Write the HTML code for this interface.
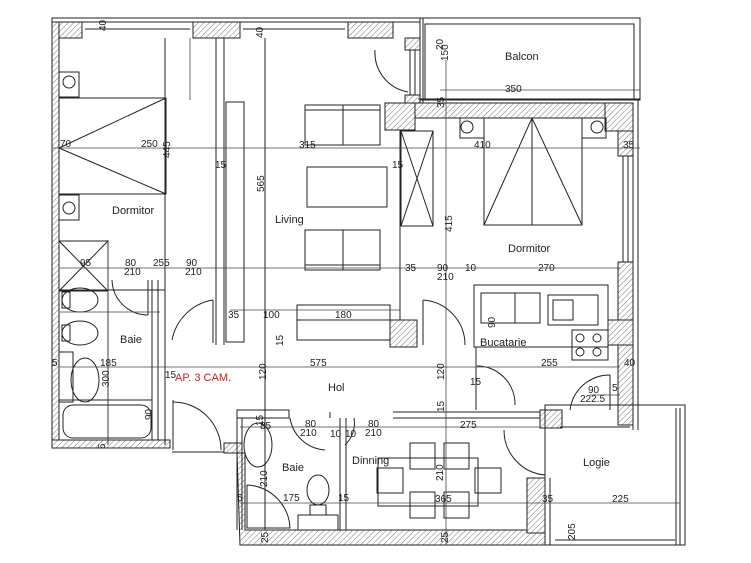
<!DOCTYPE html>
<html><head><meta charset="utf-8"><style>
body{margin:0;background:#fff}
svg{display:block}
text{font-family:"Liberation Sans",sans-serif;font-size:10px;fill:#222}
.l{font-size:11px}
</style></head><body>
<svg width="751" height="563" viewBox="0 0 751 563" xmlns="http://www.w3.org/2000/svg">
<defs>
<pattern id="h" width="4" height="4" patternUnits="userSpaceOnUse" patternTransform="rotate(45)">
<rect width="4" height="4" fill="#fff"/><line x1="0" y1="0" x2="0" y2="4" stroke="#777" stroke-width="1"/></pattern>
</defs>
<g stroke="#222" fill="none" stroke-width="1">
<!-- outer walls hatched -->
<rect x="52" y="18" width="368" height="4" fill="#fff"/>
<rect x="52" y="22" width="30" height="16" fill="url(#h)"/>
<rect x="193" y="22" width="47" height="16" fill="url(#h)"/>
<rect x="348" y="22" width="45" height="16" fill="url(#h)"/>
<line x1="85" y1="29" x2="190" y2="29"/><line x1="243" y1="29" x2="345" y2="29"/>
<rect x="52" y="22" width="7" height="425" fill="url(#h)"/>
<rect x="52" y="440" width="118" height="8" fill="url(#h)"/>
<rect x="224" y="443" width="18" height="10" fill="url(#h)"/>
<polygon points="237,453 245,453 245,530 545,530 545,545 240,545" fill="url(#h)"/>
<rect x="527" y="478" width="18" height="55" fill="url(#h)"/>
<rect x="393" y="103" width="240" height="15" fill="url(#h)"/>
<rect x="385" y="103" width="30" height="27" fill="url(#h)"/>
<rect x="605" y="103" width="28" height="28" fill="url(#h)"/>
<rect x="618" y="131" width="15" height="25" fill="url(#h)"/>
<rect x="618" y="262" width="15" height="85" fill="url(#h)"/>
<rect x="608" y="320" width="25" height="25" fill="url(#h)"/>
<rect x="618" y="345" width="15" height="80" fill="url(#h)"/>
<rect x="390" y="320" width="27" height="27" fill="url(#h)"/>
<rect x="540" y="410" width="22" height="18" fill="url(#h)"/>
<rect x="405" y="38" width="15" height="12" fill="url(#h)"/>
<rect x="405" y="95" width="15" height="8" fill="url(#h)"/>
<!-- balcon -->
<rect x="420" y="18" width="220" height="82"/>
<rect x="425" y="24" width="209" height="76"/>
<line x1="420" y1="18" x2="420" y2="103"/><line x1="423" y1="18" x2="423" y2="103"/>
<line x1="418" y1="99" x2="640" y2="99"/>
<line x1="410" y1="50" x2="410" y2="95"/><line x1="415" y1="50" x2="415" y2="95"/>
<path d="M375,50 A40,40 0 0 0 408,92"/>
<!-- right wall lines -->
<line x1="623" y1="156" x2="623" y2="262"/><line x1="628" y1="156" x2="628" y2="262"/>
<line x1="633" y1="103" x2="633" y2="430"/><line x1="638" y1="100" x2="638" y2="430"/>
<!-- living column -->
<line x1="216" y1="38" x2="216" y2="345"/><line x1="224" y1="38" x2="224" y2="345"/>
<rect x="226" y="102" width="18" height="240"/>
<line x1="165" y1="38" x2="165" y2="275"/>
<line x1="265" y1="38" x2="265" y2="530"/>
<!-- left bedroom -->
<rect x="59" y="72" width="20" height="25"/><circle cx="69" cy="82" r="6"/>
<rect x="59" y="195" width="20" height="25"/><circle cx="69" cy="208" r="6"/>
<rect x="59" y="98" width="107" height="96"/>
<path d="M59,148 L166,98 M59,148 L166,194"/>
<rect x="59" y="241" width="49" height="50"/><path d="M59,241 L108,291 M108,241 L59,291"/>
<!-- baie left -->
<line x1="59" y1="290" x2="165" y2="290"/>
<line x1="108" y1="290" x2="108" y2="445"/>
<line x1="152" y1="280" x2="152" y2="440"/><line x1="158" y1="280" x2="158" y2="440"/>
<line x1="165" y1="275" x2="165" y2="445"/>
<path d="M112,280 A36,36 0 0 0 148,315"/><line x1="148" y1="280" x2="148" y2="315"/>
<ellipse cx="80" cy="300" rx="18" ry="12"/><rect x="62" y="292" width="8" height="16"/>
<ellipse cx="80" cy="333" rx="18" ry="12"/><rect x="62" y="325" width="8" height="16"/>
<rect x="59" y="352" width="14" height="50"/>
<ellipse cx="85" cy="380" rx="14" ry="22"/>
<rect x="63" y="405" width="88" height="33" rx="10"/>
<line x1="59" y1="400" x2="152" y2="400"/>
<!-- doors near hall -->
<path d="M172,340 A50,50 0 0 1 213,300"/><line x1="213" y1="300" x2="213" y2="343"/>
<line x1="173" y1="400" x2="173" y2="450"/><path d="M173,402 A48,48 0 0 1 221,450"/>
<line x1="172" y1="452" x2="224" y2="452"/>
<!-- living furniture -->
<rect x="305" y="105" width="75" height="40"/><line x1="305" y1="110" x2="380" y2="110"/><line x1="343" y1="105" x2="343" y2="145"/>
<rect x="307" y="167" width="80" height="40"/>
<rect x="305" y="230" width="75" height="40"/><line x1="305" y1="265" x2="380" y2="265"/><line x1="343" y1="230" x2="343" y2="270"/>
<rect x="297" y="305" width="93" height="35"/><line x1="297" y1="320" x2="390" y2="320"/>
<!-- wardrobe right bedroom -->
<rect x="401" y="131" width="32" height="95"/><path d="M401,131 L433,226 M433,131 L401,226"/>
<line x1="400" y1="130" x2="400" y2="320"/>
<rect x="460" y="118" width="24" height="20"/><circle cx="467" cy="127" r="6"/>
<rect x="582" y="118" width="24" height="20"/><circle cx="597" cy="127" r="6"/>
<rect x="484" y="118" width="98" height="107"/><path d="M532,118 L484,225 M532,118 L582,225 M532,118 L532,225"/>
<!-- kitchen -->
<rect x="474" y="285" width="134" height="62"/>
<rect x="481" y="293" width="59" height="30"/><line x1="515" y1="293" x2="515" y2="323"/>
<rect x="548" y="295" width="50" height="30"/><rect x="553" y="300" width="20" height="20"/>
<rect x="572" y="330" width="36" height="30"/>
<circle cx="580" cy="338" r="4"/><circle cx="597" cy="338" r="4"/><circle cx="580" cy="352" r="4"/><circle cx="597" cy="352" r="4"/>
<path d="M423,300 A45,45 0 0 1 465,345"/><line x1="423" y1="300" x2="423" y2="345"/>
<line x1="476" y1="347" x2="476" y2="410"/>
<path d="M477,366 A38,38 0 0 1 515,405"/>
<path d="M570,410 A40,40 0 0 1 610,375"/><line x1="610" y1="375" x2="610" y2="410"/>
<!-- hall wall lower -->
<rect x="237" y="410" width="52" height="8"/>
<line x1="237" y1="412" x2="237" y2="530"/><line x1="242" y1="418" x2="242" y2="530"/>
<line x1="330" y1="412" x2="330" y2="418"/>
<line x1="393" y1="412" x2="540" y2="412"/><line x1="393" y1="418" x2="540" y2="418"/>
<line x1="340" y1="418" x2="340" y2="530"/><line x1="346" y1="418" x2="346" y2="530"/>
<path d="M290,418 A38,38 0 0 0 325,450"/>
<path d="M354,418 A30,30 0 0 1 345,445"/>
<path d="M504,430 A45,45 0 0 0 545,475"/><line x1="545" y1="430" x2="545" y2="478"/>
<!-- baie bottom -->
<ellipse cx="258" cy="445" rx="14" ry="22"/>
<path d="M247,485 L247,528 L290,528 A45,45 0 0 0 247,485"/>
<ellipse cx="318" cy="490" rx="11" ry="15"/><rect x="310" y="505" width="16" height="10"/>
<rect x="298" y="515" width="40" height="15"/>
<!-- dinning -->
<rect x="378" y="458" width="100" height="48"/>
<rect x="410" y="443" width="25" height="26"/><rect x="444" y="443" width="25" height="26"/>
<rect x="410" y="492" width="25" height="26"/><rect x="444" y="492" width="25" height="26"/>
<rect x="377" y="468" width="26" height="25"/><rect x="475" y="468" width="26" height="25"/>
<!-- logie -->
<rect x="545" y="405" width="140" height="140"/>
<line x1="680" y1="408" x2="680" y2="545"/><line x1="676" y1="408" x2="676" y2="545"/>
<line x1="550" y1="478" x2="550" y2="545"/><line x1="555" y1="540" x2="675" y2="540"/>
<line x1="560" y1="427" x2="630" y2="427"/>
</g>
<!-- dimension lines -->
<g stroke="#444" stroke-width="0.8" fill="none">
<line x1="52" y1="148" x2="640" y2="148"/>
<line x1="60" y1="268" x2="620" y2="268"/>
<line x1="60" y1="367" x2="620" y2="367"/>
<line x1="60" y1="312" x2="160" y2="312"/>
<line x1="240" y1="427" x2="540" y2="427"/>
<line x1="240" y1="503" x2="680" y2="503"/>
<line x1="230" y1="310" x2="400" y2="310"/>
<line x1="446" y1="60" x2="446" y2="545"/>
<line x1="108" y1="240" x2="108" y2="445"/>
<line x1="440" y1="90" x2="640" y2="90"/>
<line x1="190" y1="38" x2="190" y2="100"/>
<line x1="590" y1="395" x2="620" y2="395"/>
</g>
<g>
<text x="100" y="31" transform="rotate(-90 103 28)">40</text>
<text x="250" y="31" transform="rotate(-90 260 28)">40</text>
<text x="60" y="147">70</text><text x="141" y="147">250</text>
<text x="162" y="160" transform="rotate(-90 165 155)">445</text>
<text x="215" y="168">15</text>
<text x="258" y="190" transform="rotate(-90 262 188)">565</text>
<text x="299" y="148">315</text>
<text x="392" y="168">15</text>
<text x="448" y="236" transform="rotate(-90 448 232)">415</text>
<text x="474" y="148">410</text>
<text x="623" y="148">35</text>
<text x="505" y="60" class="l">Balcon</text>
<text x="505" y="92">350</text>
<text x="437" y="50" transform="rotate(-90 440 47)">20</text>
<text x="440" y="63" transform="rotate(-90 443 58)">150</text>
<text x="438" y="108" transform="rotate(-90 441 105)">35</text>
<text x="112" y="214" class="l">Dormitor</text>
<text x="275" y="223" class="l">Living</text>
<text x="508" y="252" class="l">Dormitor</text>
<text x="80" y="266">95</text><text x="125" y="266">80</text><text x="124" y="275">210</text>
<text x="153" y="266">255</text><text x="186" y="266">90</text><text x="185" y="275">210</text>
<text x="405" y="271">35</text><text x="437" y="271">90</text><text x="437" y="280">210</text>
<text x="465" y="271">10</text><text x="538" y="271">270</text>
<text x="120" y="343" class="l">Baie</text>
<text x="228" y="318">35</text><text x="263" y="318">100</text><text x="335" y="318">180</text>
<text x="276" y="345" transform="rotate(-90 280 342)">15</text>
<text x="493" y="330" transform="rotate(-90 493 328)">90</text>
<text x="480" y="346" class="l">Bucatarie</text>
<text x="52" y="366">5</text><text x="100" y="366">185</text>
<text x="165" y="378">15</text>
<text x="175" y="381" fill="#d0202a" style="fill:#d0202a;font-size:11px">AP. 3 CAM.</text>
<text x="310" y="366">575</text>
<text x="262" y="384" transform="rotate(-90 262 380)">120</text>
<text x="440" y="384" transform="rotate(-90 440 380)">120</text>
<text x="328" y="391" class="l">Hol</text>
<text x="541" y="366">255</text><text x="624" y="366">40</text>
<text x="470" y="385">15</text>
<text x="588" y="393">90</text><text x="580" y="402">222.5</text><text x="612" y="391">5</text>
<text x="100" y="388" transform="rotate(-90 104 383)">300</text>
<text x="148" y="424" transform="rotate(-90 148 420)">90</text>
<text x="100" y="448" transform="rotate(-90 103 446)">5</text>
<text x="258" y="427" transform="rotate(-90 260 424)">15</text>
<text x="260" y="429">85</text><text x="305" y="427">80</text><text x="300" y="436">210</text>
<text x="330" y="437">10</text><text x="345" y="437">10</text>
<text x="368" y="427">80</text><text x="365" y="436">210</text>
<text x="460" y="428">275</text>
<text x="440" y="416" transform="rotate(-90 440 412)">15</text>
<text x="282" y="471" class="l">Baie</text>
<text x="352" y="464" class="l">Dinning</text>
<text x="583" y="466" class="l">Logie</text>
<text x="260" y="490" transform="rotate(-90 262 485)">210</text>
<text x="438" y="480" transform="rotate(-90 441 478)">210</text>
<text x="237" y="501">5</text><text x="283" y="501">175</text><text x="338" y="501">15</text>
<text x="435" y="502">365</text><text x="542" y="502">35</text><text x="612" y="502">225</text>
<text x="260" y="545" transform="rotate(-90 263 540)">25</text>
<text x="440" y="545" transform="rotate(-90 443 540)">25</text>
<text x="566" y="545" transform="rotate(-90 568 538)">205</text>
</g>
</svg>
</body></html>
